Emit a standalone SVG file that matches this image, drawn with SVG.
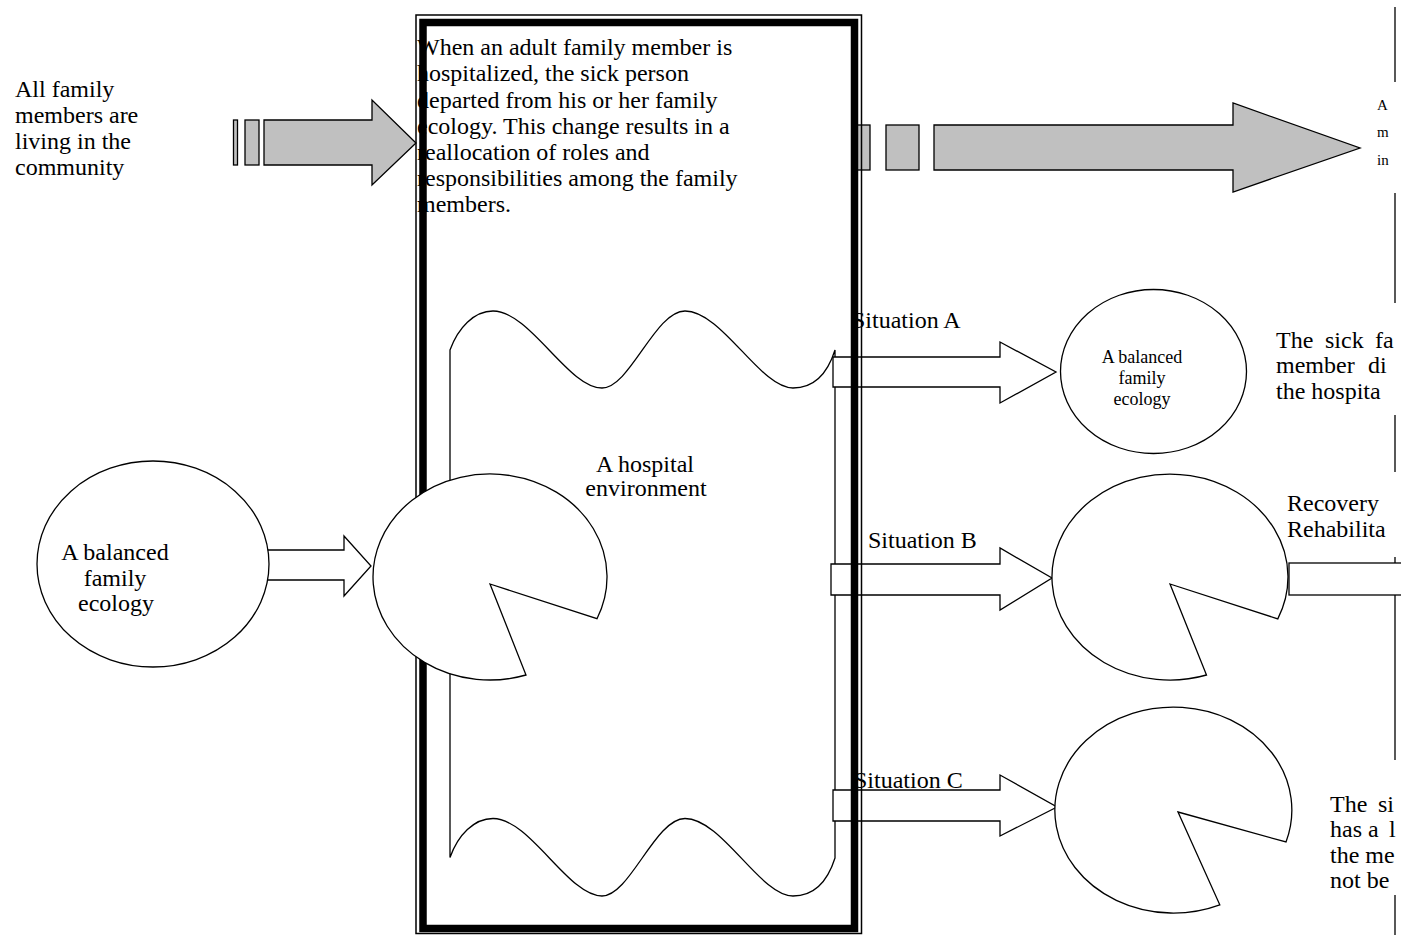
<svg xmlns="http://www.w3.org/2000/svg" width="1401" height="935" viewBox="0 0 1401 935">
<defs>
<style>
.t{font-family:"Liberation Serif","Times New Roman",serif;font-size:24px;fill:#000}
.s{font-size:18px}
.xs{font-size:15px}
.ln{fill:none;stroke:#000;stroke-width:1.3}
.wf{fill:#fff;stroke:#000;stroke-width:1.3;stroke-linejoin:miter}
.gf{fill:#c0c0c0;stroke:#000;stroke-width:1.3;stroke-linejoin:miter}
</style>
</defs>
<rect width="1401" height="935" fill="#fff"/>

<g id="right-edge">
<path class="ln" d="M1395,7V82M1395,193V303M1395,415V472M1395,557V760M1395,895V935" stroke-width="1.6"/>
</g>

<g id="hospital">
<path class="wf" d="M450,350 C458,328 474,311 493,311 C530,311 568,388 602,388 C630,388 655,311 685,311 C722,311 760,388 793,388 C815,388 828,372 835,350 L835,858 C828,880 815,896 793,896 C760,896 722,818.5 685,818.5 C655,818.5 630,896 602,896 C568,896 530,818.5 493,818.5 C474,818.5 458,835 450,857.5 Z"/>
<text class="t" font-size="23" text-anchor="middle"><tspan x="645" y="472">A hospital</tspan><tspan x="646" y="496">environment</tspan></text>
</g>

<g id="connectors">
<path id="arrow-sitA" class="wf" d="M833,357 H1000 V342 L1056,372 L1000,403 V387 H833 Z"/>
<path id="arrow-sitB" class="wf" d="M831,564 H1000 V548 L1052,578 L1000,610 V595 H831 Z"/>
<path id="arrow-sitC" class="wf" d="M833,790 H1000 V775 L1057,807 L1000,836 V821 H833 Z"/>
<path id="arrow-left" class="wf" d="M267,550 H344 V536 L371,566 L344,596 V580 H267 Z"/>
<g id="arrow-gray-left">
<rect class="gf" x="233.5" y="120" width="4" height="45"/>
<rect class="gf" x="245" y="120" width="14" height="45"/>
<path class="gf" d="M264,120 H372 V100 L416,143 L372,185 V165 H264 Z"/>
</g>
<g id="arrow-gray-right">
<rect class="gf" x="857" y="125" width="13" height="45"/>
<rect class="gf" x="886" y="125" width="33" height="45"/>
<path class="gf" d="M934,125 H1233 V103 L1360,148 L1233,192 V170 H934 Z"/>
</g>
<rect id="arrow-recovery" class="wf" x="1289" y="563" width="140" height="32"/>
</g>

<g id="labels">
<text class="t" x="852" y="328">Situation A</text>
<text class="t" x="868" y="548">Situation B</text>
<text class="t" x="854" y="788">Situation C</text>
</g>

<g id="intro-text">
<text class="t"><tspan x="15" y="97">All family</tspan><tspan x="15" y="123">members are</tspan><tspan x="15" y="149">living in the</tspan><tspan x="15" y="175">community</tspan></text>
</g>

<g id="box-text">
<text class="t"><tspan x="417" y="55">When an adult family member is</tspan><tspan x="417" y="81">hospitalized, the sick person</tspan><tspan x="417" y="107.5">departed from his or her family</tspan><tspan x="417" y="134">ecology. This change results in a</tspan><tspan x="417" y="160">reallocation of roles and</tspan><tspan x="417" y="186">responsibilities among the family</tspan><tspan x="417" y="212">members.</tspan></text>
</g>

<g id="hospital-box">
<rect x="416" y="15" width="445.5" height="918.5" fill="none" stroke="#000" stroke-width="1.5"/>
<rect x="423" y="22.5" width="431.5" height="906" fill="none" stroke="#000" stroke-width="7.5"/>
</g>

<g id="family-ecology">
<ellipse class="wf" cx="153" cy="564" rx="116" ry="103"/>
<text class="t" text-anchor="middle"><tspan x="115" y="560">A balanced</tspan><tspan x="115" y="586">family</tspan><tspan x="116" y="611">ecology</tspan></text>
</g>

<g id="pacman-left">
<path class="wf" d="M490,584 L597,618.7 A117,103 0 1 0 526,675 Z"/>
</g>

<g id="circle-A">
<ellipse class="wf" cx="1153.5" cy="371.5" rx="93" ry="82"/>
<text class="t s" text-anchor="middle"><tspan x="1142" y="363">A balanced</tspan><tspan x="1142" y="384">family</tspan><tspan x="1142" y="405">ecology</tspan></text>
</g>

<g id="pacman-B">
<path class="wf" d="M1170,584 L1277.8,618.9 A118,103 0 1 0 1206.5,675 Z"/>
</g>

<g id="pacman-C">
<path class="wf" d="M1178,812 L1286,842 A118.5,103 0 1 0 1219.8,904.8 Z"/>
</g>

<g id="text-A">
<text class="t xs"><tspan x="1377" y="110">A</tspan><tspan x="1377" y="137">m</tspan><tspan x="1377" y="165">in</tspan></text>
</g>

<g id="text-sitA">
<text class="t"><tspan x="1276" y="348">The</tspan><tspan x="1325" y="348">sick</tspan><tspan x="1375" y="348">fa</tspan><tspan x="1276" y="373">member</tspan><tspan x="1368" y="373">di</tspan><tspan x="1276" y="399">the hospita</tspan></text>
</g>

<g id="text-sitB">
<text class="t"><tspan x="1287" y="511">Recovery</tspan><tspan x="1287" y="537">Rehabilita</tspan></text>
</g>

<g id="text-sitC">
<text class="t"><tspan x="1330" y="812">The</tspan><tspan x="1378" y="812">si</tspan><tspan x="1330" y="837">has a</tspan><tspan x="1389" y="837">l</tspan><tspan x="1330" y="863">the me</tspan><tspan x="1330" y="888">not be</tspan></text>
</g>
</svg>
